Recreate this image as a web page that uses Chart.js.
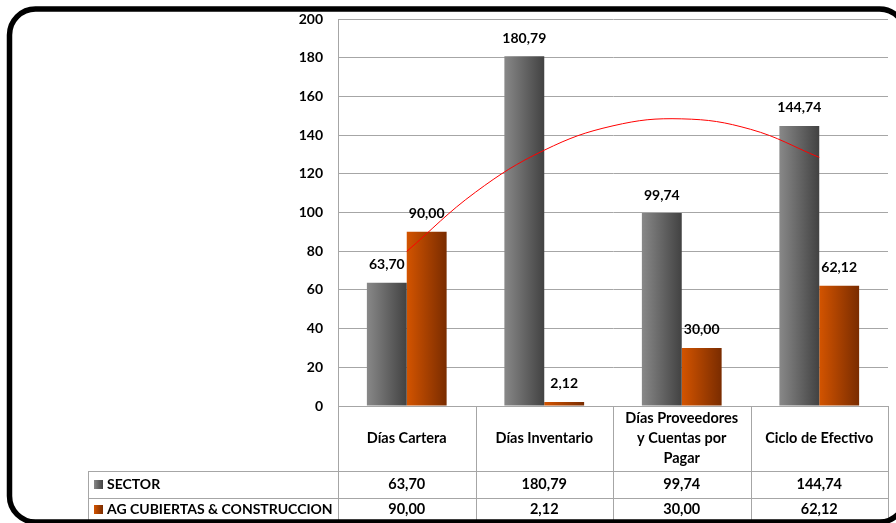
<!DOCTYPE html>
<html>
<head>
<meta charset="utf-8">
<script src="https://cdn.jsdelivr.net/npm/chart.js@4/dist/chart.umd.min.js"></script>
<style>
  html, body { margin: 0; padding: 0; background: #fff; }
  canvas { display: block; }
</style>
</head>
<body>
<canvas id="grafico" width="896" height="523"></canvas>
<script>
// ───────── dati ─────────
const categorie = ['Días Cartera', 'Días Inventario', ['Días Proveedores', 'y Cuentas por', 'Pagar'], 'Ciclo de Efectivo'];
const posCat    = [1, 2, 3, 4];
const serieNomi = ['SECTOR', 'AG CUBIERTAS & CONSTRUCCION'];
const sector    = [63.70, 180.79, 99.74, 144.74];
const agCubiert = [90.00, 2.12, 30.00, 62.12];
// linea di tendenza (polinomiale) sul SECTOR, letta lungo la curva
const tendX = [1, 1.5, 2, 2.5, 3, 3.5, 4];
const tendY = [79.9, 110.5, 132.2, 144.8, 148.4, 143.0, 128.5];
const yTicks = [0, 20, 40, 60, 80, 100, 120, 140, 160, 180, 200];

const FONT = 'Lato, "Open Sans", sans-serif';
const CAT_PCT = 0.58;
const GRIGIO = ['#888888', '#424242'];
const ARANCIO = ['#d35400', '#7a2c00'];
const LINEA = '#a6a6a6';

const fmt = v => v.toFixed(2).replace('.', ',');
const punti = (xs, ys) => xs.map((x, i) => ({ x, y: ys[i] }));

// gradiente orizzontale su ogni barra, dalla posizione sulla scala x
function gradBarra(colori) {
  return function (ctx) {
    const chart = ctx.chart;
    const xs = chart.scales.x;
    if (!chart.chartArea || !xs || ctx.type !== 'data') return colori[0];
    const c = xs.getPixelForValue(posCat[ctx.dataIndex]);
    const w = xs.width / categorie.length * CAT_PCT / 2;
    const left = c - w + ctx.datasetIndex * w;
    const g = chart.ctx.createLinearGradient(left, 0, left + w, 0);
    g.addColorStop(0, colori[0]);
    g.addColorStop(1, colori[1]);
    return g;
  };
}

function gradChiave(ctx, x, colori) {
  const g = ctx.createLinearGradient(x, 0, x + 9, 0);
  g.addColorStop(0, colori[0]);
  g.addColorStop(1, colori[1]);
  return g;
}

// etichette valore sopra le barre
const etichette = {
  id: 'etichette',
  afterDatasetsDraw(chart) {
    const ctx = chart.ctx;
    ctx.save();
    ctx.font = 'bold 14px ' + FONT;
    ctx.fillStyle = '#000';
    ctx.textAlign = 'center';
    ctx.textBaseline = 'middle';
    [sector, agCubiert].forEach((serie, di) => {
      chart.getDatasetMeta(di).data.forEach((bar, i) => {
        ctx.fillText(fmt(serie[i]), bar.x, bar.y - 18);
      });
    });
    ctx.restore();
  }
};

// tabella dati sotto l'asse + cornice arrotondata
const tabella = {
  id: 'tabella',
  afterDraw(chart) {
    const ctx = chart.ctx;
    const xs = chart.scales.x;
    const area = chart.chartArea;
    const top = area.bottom;
    const r1 = top + 65, r2 = r1 + 26.5, fondo = 523;
    const colW = xs.width / categorie.length;
    const tabLeft = 88;

    ctx.save();
    ctx.strokeStyle = LINEA;
    ctx.lineWidth = 1;
    ctx.beginPath();
    for (let i = 0; i <= categorie.length; i++) {
      const x = Math.round(area.left + i * colW) + 0.5;
      ctx.moveTo(x, top); ctx.lineTo(x, fondo);
    }
    ctx.moveTo(tabLeft + 0.5, r1); ctx.lineTo(tabLeft + 0.5, fondo);
    ctx.moveTo(tabLeft, Math.round(r1) + 0.5); ctx.lineTo(area.right, Math.round(r1) + 0.5);
    ctx.moveTo(tabLeft, Math.round(r2) + 0.5); ctx.lineTo(area.right, Math.round(r2) + 0.5);
    ctx.stroke();

    ctx.fillStyle = '#000';
    ctx.font = 'bold 14.5px ' + FONT;
    ctx.textAlign = 'center';
    ctx.textBaseline = 'middle';
    const cy = (top + r1) / 2;
    categorie.forEach((lab, i) => {
      const cx = xs.getPixelForValue(posCat[i]);
      const righe = Array.isArray(lab) ? lab : [lab];
      righe.forEach((t, k) => {
        ctx.fillText(t, cx, cy + (k - (righe.length - 1) / 2) * 20);
      });
      ctx.fillText(fmt(sector[i]), cx, (r1 + r2) / 2);
      ctx.fillText(fmt(agCubiert[i]), cx, (r2 + fondo) / 2 - 1);
    });

    // chiavi della legenda nelle righe
    ctx.font = 'bold 14px ' + FONT;
    ctx.textAlign = 'left';
    [[GRIGIO, (r1 + r2) / 2], [ARANCIO, (r2 + fondo) / 2 - 1]].forEach(([col, y], k) => {
      ctx.fillStyle = gradChiave(ctx, 94, col);
      ctx.fillRect(94, Math.round(y) - 4, 9, 9);
      ctx.fillStyle = '#000';
      ctx.fillText(serieNomi[k], 107, y);
    });

    // cornice
    ctx.strokeStyle = '#000';
    ctx.lineWidth = 5.5;
    ctx.beginPath();
    ctx.roundRect(9.5, 9, 896, 513, 26);
    ctx.stroke();
    ctx.restore();
  }
};

new Chart(document.getElementById('grafico'), {
  type: 'bar',
  data: {
    datasets: [
      { label: serieNomi[0], data: punti(posCat, sector), backgroundColor: gradBarra(GRIGIO), borderWidth: 0, order: 1 },
      { label: serieNomi[1], data: punti(posCat, agCubiert), backgroundColor: gradBarra(ARANCIO), borderWidth: 0, order: 1 },
      {
        type: 'line', label: 'Tendencia',
        data: punti(tendX, tendY),
        borderColor: '#ff0000', borderWidth: 1, pointRadius: 0,
        tension: 0.4, fill: false, order: 0
      }
    ]
  },
  options: {
    responsive: false,
    animation: false,
    categoryPercentage: CAT_PCT,
    barPercentage: 1,
    layout: { padding: { top: 19, right: 8, left: 0, bottom: 0 } },
    plugins: { legend: { display: false }, tooltip: { enabled: false } },
    scales: {
      x: {
        type: 'linear', min: 0.5, max: 4.5, offset: false,
        afterBuildTicks(s) { s.ticks = posCat.map(v => ({ value: v })); },
        grid: { display: false },
        border: { display: false },
        ticks: { display: false },
        afterFit(s) { s.height = 117; }
      },
      y: {
        min: 0, max: 200,
        afterBuildTicks(s) { s.ticks = yTicks.map(v => ({ value: v })); },
        afterFit(s) { s.width = 338; },
        grid: { color: LINEA, drawTicks: true, tickLength: 11, tickColor: 'rgba(0,0,0,0)' },
        border: { display: true, color: LINEA },
        ticks: { padding: 4, color: '#000', font: { family: FONT, size: 14, weight: 'bold' } }
      }
    }
  },
  plugins: [etichette, tabella]
});
</script>
</body>
</html>
